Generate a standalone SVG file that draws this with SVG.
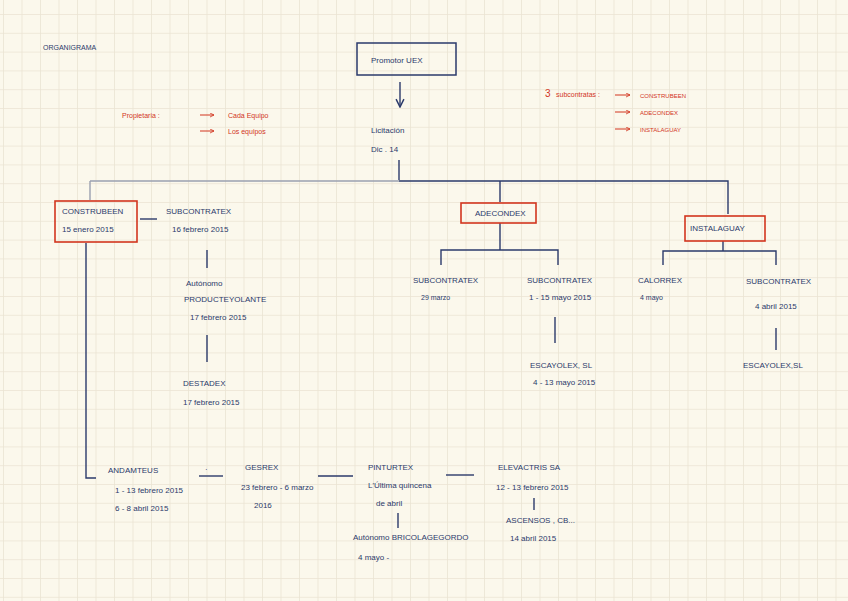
<svg xmlns="http://www.w3.org/2000/svg" width="848" height="601" viewBox="0 0 848 601">
<defs>
<pattern id="grid" width="18.5" height="18.8" patternUnits="userSpaceOnUse" x="3" y="14">
<path d="M0 0H18.5M0 0V18.8" fill="none" stroke="#ebe4d3" stroke-width="1.6"/>
</pattern>
<marker id="arr" viewBox="0 0 10 10" refX="9" refY="5" markerWidth="7" markerHeight="7" orient="auto">
<path d="M1 1L9 5L1 9" fill="none" stroke="#2b3a6b" stroke-width="1.5"/>
</marker>
<marker id="rarr" viewBox="0 0 10 10" refX="9" refY="5" markerWidth="5" markerHeight="5" orient="auto">
<path d="M1 1L9 5L1 9" fill="none" stroke="#d2351e" stroke-width="1.6"/>
</marker>
</defs>
<style>
text{font-family:"Liberation Sans",Arial,sans-serif;font-size:8px;fill:#2b3a6b}
.r{fill:#d2351e;font-size:7px}
.s{font-size:7px}
.box{fill:none;stroke:#2b3a6b;stroke-width:1.5}
.rbox{fill:none;stroke:#d2351e;stroke-width:1.6}
.ln{fill:none;stroke:#2b3a6b;stroke-width:1.4}
.rl{fill:none;stroke:#d2351e;stroke-width:1}
</style>
<rect width="848" height="601" fill="#fbf8ec"/>
<rect width="848" height="601" fill="url(#grid)"/>

<text x="43" y="50" class="s">ORGANIGRAMA</text>

<g id="notes-left">
<text x="122" y="118" class="r">Propietaria :</text>
<path class="rl" d="M200 115H214" marker-end="url(#rarr)"/>
<text x="228" y="118" class="r">Cada Equipo</text>
<path class="rl" d="M200 131H214" marker-end="url(#rarr)"/>
<text x="228" y="134" class="r">Los equipos</text>
</g>

<g id="notes-right">
<text x="545" y="97" class="r" style="font-size:10px">3</text>
<text x="556" y="97" class="r">subcontratas :</text>
<path class="rl" d="M615 95H630" marker-end="url(#rarr)"/>
<text x="640" y="98" class="r" style="font-size:6px">CONSTRUBEEN</text>
<path class="rl" d="M615 112H630" marker-end="url(#rarr)"/>
<text x="640" y="115" class="r" style="font-size:6px">ADECONDEX</text>
<path class="rl" d="M615 129H630" marker-end="url(#rarr)"/>
<text x="640" y="132" class="r" style="font-size:6px">INSTALAGUAY</text>
</g>

<g id="connectors">
<path class="ln" d="M400 82V107" marker-end="url(#arr)"/>
<path class="ln" d="M399 160V180"/>
<path d="M90 181H399" fill="none" stroke="#9aa0b0" stroke-width="1.4"/>
<path class="ln" d="M399 181H728V214"/>
<path d="M90 181V200" fill="none" stroke="#9aa0b0" stroke-width="1.4"/>
<path class="ln" d="M500 181V202"/>
<path class="ln" d="M140 219H157"/>
<path class="ln" d="M207 250V268"/>
<path class="ln" d="M207 335V362"/>
<path class="ln" d="M86 243V478H96"/>
<path class="ln" d="M500 223V250M441 265V250H558V265"/>
<path class="ln" d="M555 317V343"/>
<path class="ln" d="M723 241V251M663 265V251H776V265"/>
<path class="ln" d="M776 328V350"/>
<path class="ln" d="M199 476H223"/>
<path class="ln" d="M318 476H353"/>
<path class="ln" d="M446 475H474"/>
<path class="ln" d="M398 513V528"/>
<path class="ln" d="M534 498V510"/>
</g>

<g id="promotor">
<rect class="box" x="357" y="43" width="99" height="32"/>
<text x="371" y="63">Promotor UEX</text>
</g>

<g id="licitacion">
<text x="371" y="133">Licitación</text>
<text x="371" y="152">Dic . 14</text>
</g>

<g id="construbeen">
<rect class="rbox" x="55" y="201" width="82" height="41"/>
<text x="62" y="214">CONSTRUBEEN</text>
<text x="62" y="232">15 enero 2015</text>
</g>

<g id="subcontratex1">
<text x="166" y="214">SUBCONTRATEX</text>
<text x="172" y="232">16 febrero 2015</text>
</g>

<g id="autonomo1">
<text x="186" y="286">Autónomo</text>
<text x="184" y="302">PRODUCTEYOLANTE</text>
<text x="190" y="320">17 febrero 2015</text>
</g>

<g id="destadex">
<text x="183" y="386">DESTADEX</text>
<text x="183" y="405">17 febrero 2015</text>
</g>

<g id="adecondex">
<rect class="rbox" x="461" y="203" width="75" height="20"/>
<text x="475" y="216">ADECONDEX</text>
</g>

<g id="subcontratex2">
<text x="413" y="283">SUBCONTRATEX</text>
<text x="421" y="300" class="s">29 marzo</text>
</g>

<g id="subcontratex3">
<text x="527" y="283">SUBCONTRATEX</text>
<text x="529" y="300">1 - 15 mayo 2015</text>
</g>

<g id="escayolex1">
<text x="530" y="368">ESCAYOLEX, SL</text>
<text x="533" y="385">4 - 13 mayo 2015</text>
</g>

<g id="instalaguay">
<rect class="rbox" x="685" y="216" width="80" height="25"/>
<text x="690" y="231">INSTALAGUAY</text>
</g>

<g id="calorrex">
<text x="638" y="283">CALORREX</text>
<text x="640" y="300" class="s">4 mayo</text>
</g>

<g id="subcontratex4">
<text x="746" y="284">SUBCONTRATEX</text>
<text x="755" y="309">4 abril 2015</text>
</g>

<g id="escayolex2">
<text x="743" y="368">ESCAYOLEX,SL</text>
</g>

<g id="andamteus">
<text x="108" y="473">ANDAMTEUS</text>
<text x="115" y="493">1 - 13 febrero 2015</text>
<text x="115" y="511">6 - 8 abril 2015</text>
<text x="205" y="472">·</text>
</g>

<g id="gesrex">
<text x="245" y="470">GESREX</text>
<text x="241" y="490">23 febrero - 6 marzo</text>
<text x="254" y="508">2016</text>
</g>

<g id="pinturtex">
<text x="368" y="470">PINTURTEX</text>
<text x="368" y="488">L'Última quincena</text>
<text x="376" y="506">de abril</text>
</g>

<g id="autonomo2">
<text x="353" y="540">Autónomo BRICOLAGEGORDO</text>
<text x="358" y="560">4 mayo -</text>
</g>

<g id="elevactris">
<text x="498" y="470">ELEVACTRIS SA</text>
<text x="496" y="490">12 - 13 febrero 2015</text>
</g>

<g id="ascensos">
<text x="506" y="523">ASCENSOS , CB...</text>
<text x="510" y="541">14 abril 2015</text>
</g>
</svg>
